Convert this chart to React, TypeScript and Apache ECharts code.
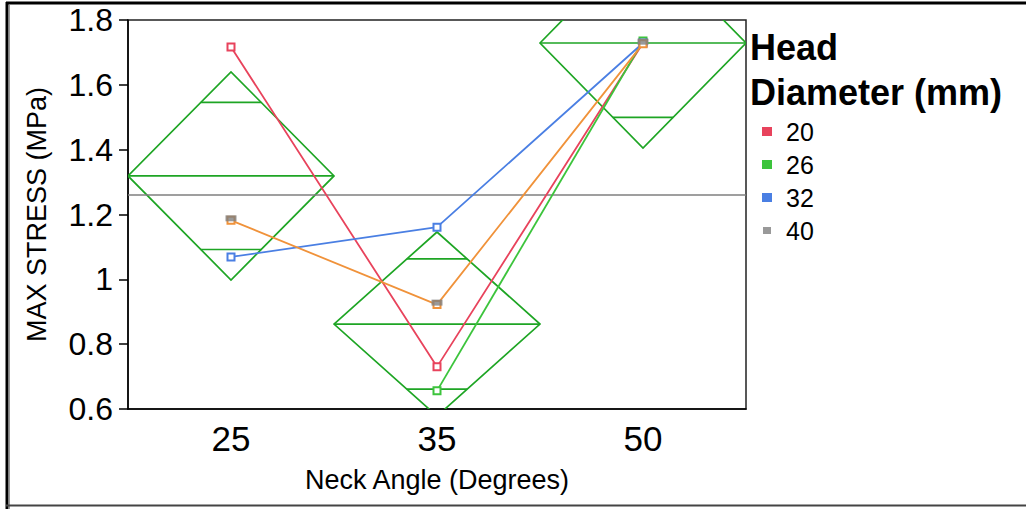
import React, { useEffect, useRef } from "react";
import * as echarts from "echarts";

// Neck angle groups on the x axis
const neckAngles = ["25", "35", "50"];

// Max stress (MPa) per head diameter, one value per neck angle
const d20 = [1.717, 0.73, 1.729];
const d26 = [null, 0.656, 1.735];
const d32 = [1.069, 1.161, 1.729];
const d40 = [1.182, 0.922, 1.727];

// Means diamonds: [group index, mean, lower 95% limit, upper 95% limit]
const groupMeans = [
  [0, 1.319, 0.998, 1.64],
  [1, 0.862, 0.578, 1.146],
  [2, 1.729, 1.405, 2.053],
];

// Grand mean across all groups
const grandMean = 1.257;

const yTicks = { min: 0.6, max: 1.8, interval: 0.2 };

const FONT = "'Liberation Sans', Arial, sans-serif";
const DIAMOND = "#1ea524";
const RED = "#e8435c";
const GREEN = "#3cc43c";
const BLUE = "#4a7fe3";
const GRAY = "#7f7f7f";
const ORANGE = "#f0923a";

function renderDiamond(params: any, api: any) {
  const cat = api.value(0);
  const mean = api.value(1);
  const lo = api.value(2);
  const hi = api.value(3);
  const c = api.coord([cat, mean]);
  const top = api.coord([cat, hi])[1];
  const bot = api.coord([cat, lo])[1];
  const half = api.size([1, 0])[0] / 2;
  const x0 = c[0] - half;
  const x1 = c[0] + half;
  const hh = (bot - top) / 2;
  // overlap marks sit at mean ± half-interval / sqrt(2)
  const off = hh / Math.SQRT2;
  const w = half * (1 - 1 / Math.SQRT2);
  const stroke = { stroke: DIAMOND, lineWidth: 1.7, fill: "none" };
  return {
    type: "group",
    children: [
      {
        type: "polygon",
        shape: { points: [[x0, c[1]], [c[0], top], [x1, c[1]], [c[0], bot]] },
        style: stroke,
      },
      { type: "line", shape: { x1: x0, y1: c[1], x2: x1, y2: c[1] }, style: stroke },
      { type: "line", shape: { x1: c[0] - w, y1: c[1] - off, x2: c[0] + w, y2: c[1] - off }, style: stroke },
      { type: "line", shape: { x1: c[0] - w, y1: c[1] + off, x2: c[0] + w, y2: c[1] + off }, style: stroke },
    ],
  };
}

function lineSeries(name: string, data: (number | null)[], color: string) {
  return {
    name,
    type: "line",
    data,
    z: 5,
    symbol: "emptyRect",
    symbolSize: 7,
    showAllSymbol: true,
    connectNulls: false,
    lineStyle: { color, width: 1.8 },
    itemStyle: { color, borderColor: color, borderWidth: 2.8 },
  };
}

export default function App() {
  const ref = useRef<HTMLDivElement>(null);
  useEffect(() => {
    if (!ref.current) return;
    const chart = echarts.init(ref.current, undefined, { renderer: "svg" });
    chart.setOption({
      animation: false,
      backgroundColor: "#ffffff",
      textStyle: { fontFamily: FONT },
      title: {
        text: "Head\nDiameter (mm)",
        left: 745,
        top: 20,
        textStyle: { fontFamily: FONT, fontSize: 36, fontWeight: "bold", color: "#000", lineHeight: 45 },
      },
      legend: {
        data: ["20", "26", "32", "40"],
        orient: "vertical",
        left: 757,
        top: 114,
        itemWidth: 8,
        itemHeight: 7,
        itemGap: 8,
        icon: "rect",
        textStyle: { fontFamily: FONT, fontSize: 25, color: "#000", padding: [0, 0, 0, 10] },
      },
      grid: {
        left: 128,
        top: 20,
        right: 280,
        bottom: 100,
        show: true,
        borderColor: "#222",
        borderWidth: 1.5,
        backgroundColor: "transparent",
      },
      xAxis: {
        type: "category",
        data: neckAngles,
        boundaryGap: true,
        name: "Neck Angle (Degrees)",
        nameLocation: "middle",
        nameGap: 57,
        nameTextStyle: { fontFamily: FONT, fontSize: 27, color: "#000" },
        axisLine: { lineStyle: { color: "#000", width: 1.5 } },
        axisTick: { length: 9, lineStyle: { color: "#000", width: 1.5 } },
        axisLabel: { fontFamily: FONT, fontSize: 35, color: "#000", margin: 12 },
      },
      yAxis: {
        type: "value",
        min: yTicks.min,
        max: yTicks.max,
        interval: yTicks.interval,
        name: "MAX STRESS (MPa)",
        nameLocation: "middle",
        nameGap: 78,
        nameTextStyle: { fontFamily: FONT, fontSize: 27, color: "#000" },
        axisLine: { show: true, lineStyle: { color: "#000", width: 1.5 } },
        axisTick: { show: true, length: 9, lineStyle: { color: "#000", width: 1.5 } },
        axisLabel: { fontFamily: FONT, fontSize: 32, color: "#000", margin: 15 },
        splitLine: { show: false },
      },
      series: [
        {
          name: "means",
          type: "custom",
          renderItem: renderDiamond,
          data: groupMeans,
          encode: { x: 0, y: [1, 2, 3] },
          clip: true,
          z: 2,
          markLine: {
            silent: true,
            symbol: ["none", "none"],
            label: { show: false },
            lineStyle: { color: GRAY, width: 1.6, type: "solid" },
            data: [{ yAxis: grandMean }],
          },
        },
        lineSeries("20", d20, RED),
        lineSeries("26", d26, GREEN),
        lineSeries("32", d32, BLUE),
        {
          name: "40 path",
          type: "line",
          data: d40,
          z: 5,
          symbol: "emptyRect",
          symbolSize: 7,
          lineStyle: { color: ORANGE, width: 1.8 },
          itemStyle: { color: ORANGE, borderColor: ORANGE, borderWidth: 2.4 },
        },
        {
          name: "40",
          type: "scatter",
          data: d40,
          z: 6,
          symbol: "rect",
          symbolSize: [11, 6],
          symbolOffset: [0, -2],
          itemStyle: { color: GRAY },
        },
      ],
      graphic: [
        { type: "line", shape: { x1: 6, y1: 3, x2: 1026, y2: 3 }, style: { stroke: "#000", lineWidth: 3 } },
        { type: "line", shape: { x1: 7, y1: 2, x2: 7, y2: 509 }, style: { stroke: "#000", lineWidth: 3 } },
        { type: "line", shape: { x1: 9.5, y1: 5, x2: 9.5, y2: 509 }, style: { stroke: "#999", lineWidth: 1 } },
        { type: "line", shape: { x1: 6, y1: 505.5, x2: 1026, y2: 505.5 }, style: { stroke: "#444", lineWidth: 2 } },
      ],
    });
    return () => chart.dispose();
  }, []);
  return (
    <div
      ref={ref}
      style={{ position: "fixed", left: 0, top: 0, width: 1026, height: 509 }}
    />
  );
}
